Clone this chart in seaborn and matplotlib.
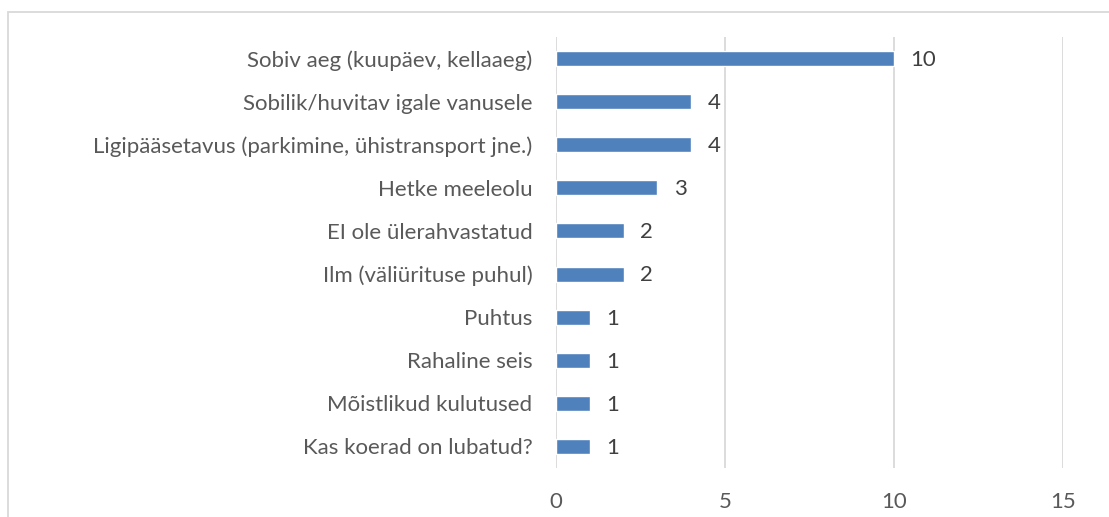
import seaborn as sns
import matplotlib.pyplot as plt
import pandas as pd
from matplotlib.patches import Rectangle

categories = [
    "Sobiv aeg (kuupäev, kellaaeg)",
    "Sobilik/huvitav igale vanusele",
    "Ligipääsetavus (parkimine, ühistransport jne.)",
    "Hetke meeleolu",
    "EI ole ülerahvastatud",
    "Ilm (väliürituse puhul)",
    "Puhtus",
    "Rahaline seis",
    "Mõistlikud kulutused",
    "Kas koerad on lubatud?",
]
values = [10, 4, 4, 3, 2, 2, 1, 1, 1, 1]
ticks = [0, 5, 10, 15]

df = pd.DataFrame({"cat": categories, "val": values})

sns.set_style("white")
plt.rcParams["font.family"] = ["Lato", "DejaVu Sans"]

fig = plt.figure(figsize=(11.09, 5.17), dpi=100)
ax = fig.add_axes([556 / 1109, 1 - 468 / 517, (1063 - 556) / 1109, (468 - 37) / 517])

sns.barplot(data=df, y="cat", x="val", color="#4F81BD", width=0.35,
            saturation=1, ax=ax, zorder=3)

ax.set_xlim(0, 15)
ax.set_xticks(ticks)
ax.set_xlabel("")
ax.set_ylabel("")
ax.grid(axis="x", color="#D9D9D9", linewidth=1.3, zorder=0)
for s in ax.spines.values():
    s.set_visible(False)
ax.tick_params(axis="y", length=0, pad=17, labelsize=16, labelcolor="#595959")
ax.tick_params(axis="x", length=0, pad=17, labelsize=16, labelcolor="#595959")

for i, v in enumerate(values):
    ax.annotate(str(v), (v, i), xytext=(12, -1), textcoords="offset points",
                va="center", ha="left", fontsize=16, color="#404040")

fig.patches.append(Rectangle((8 / 1109, -0.1), 1.2, 1 - 12 / 517 + 0.1,
                             transform=fig.transFigure, fill=False,
                             edgecolor="#D9D9D9", linewidth=1.3))

fig.savefig("out.png", dpi=100)
